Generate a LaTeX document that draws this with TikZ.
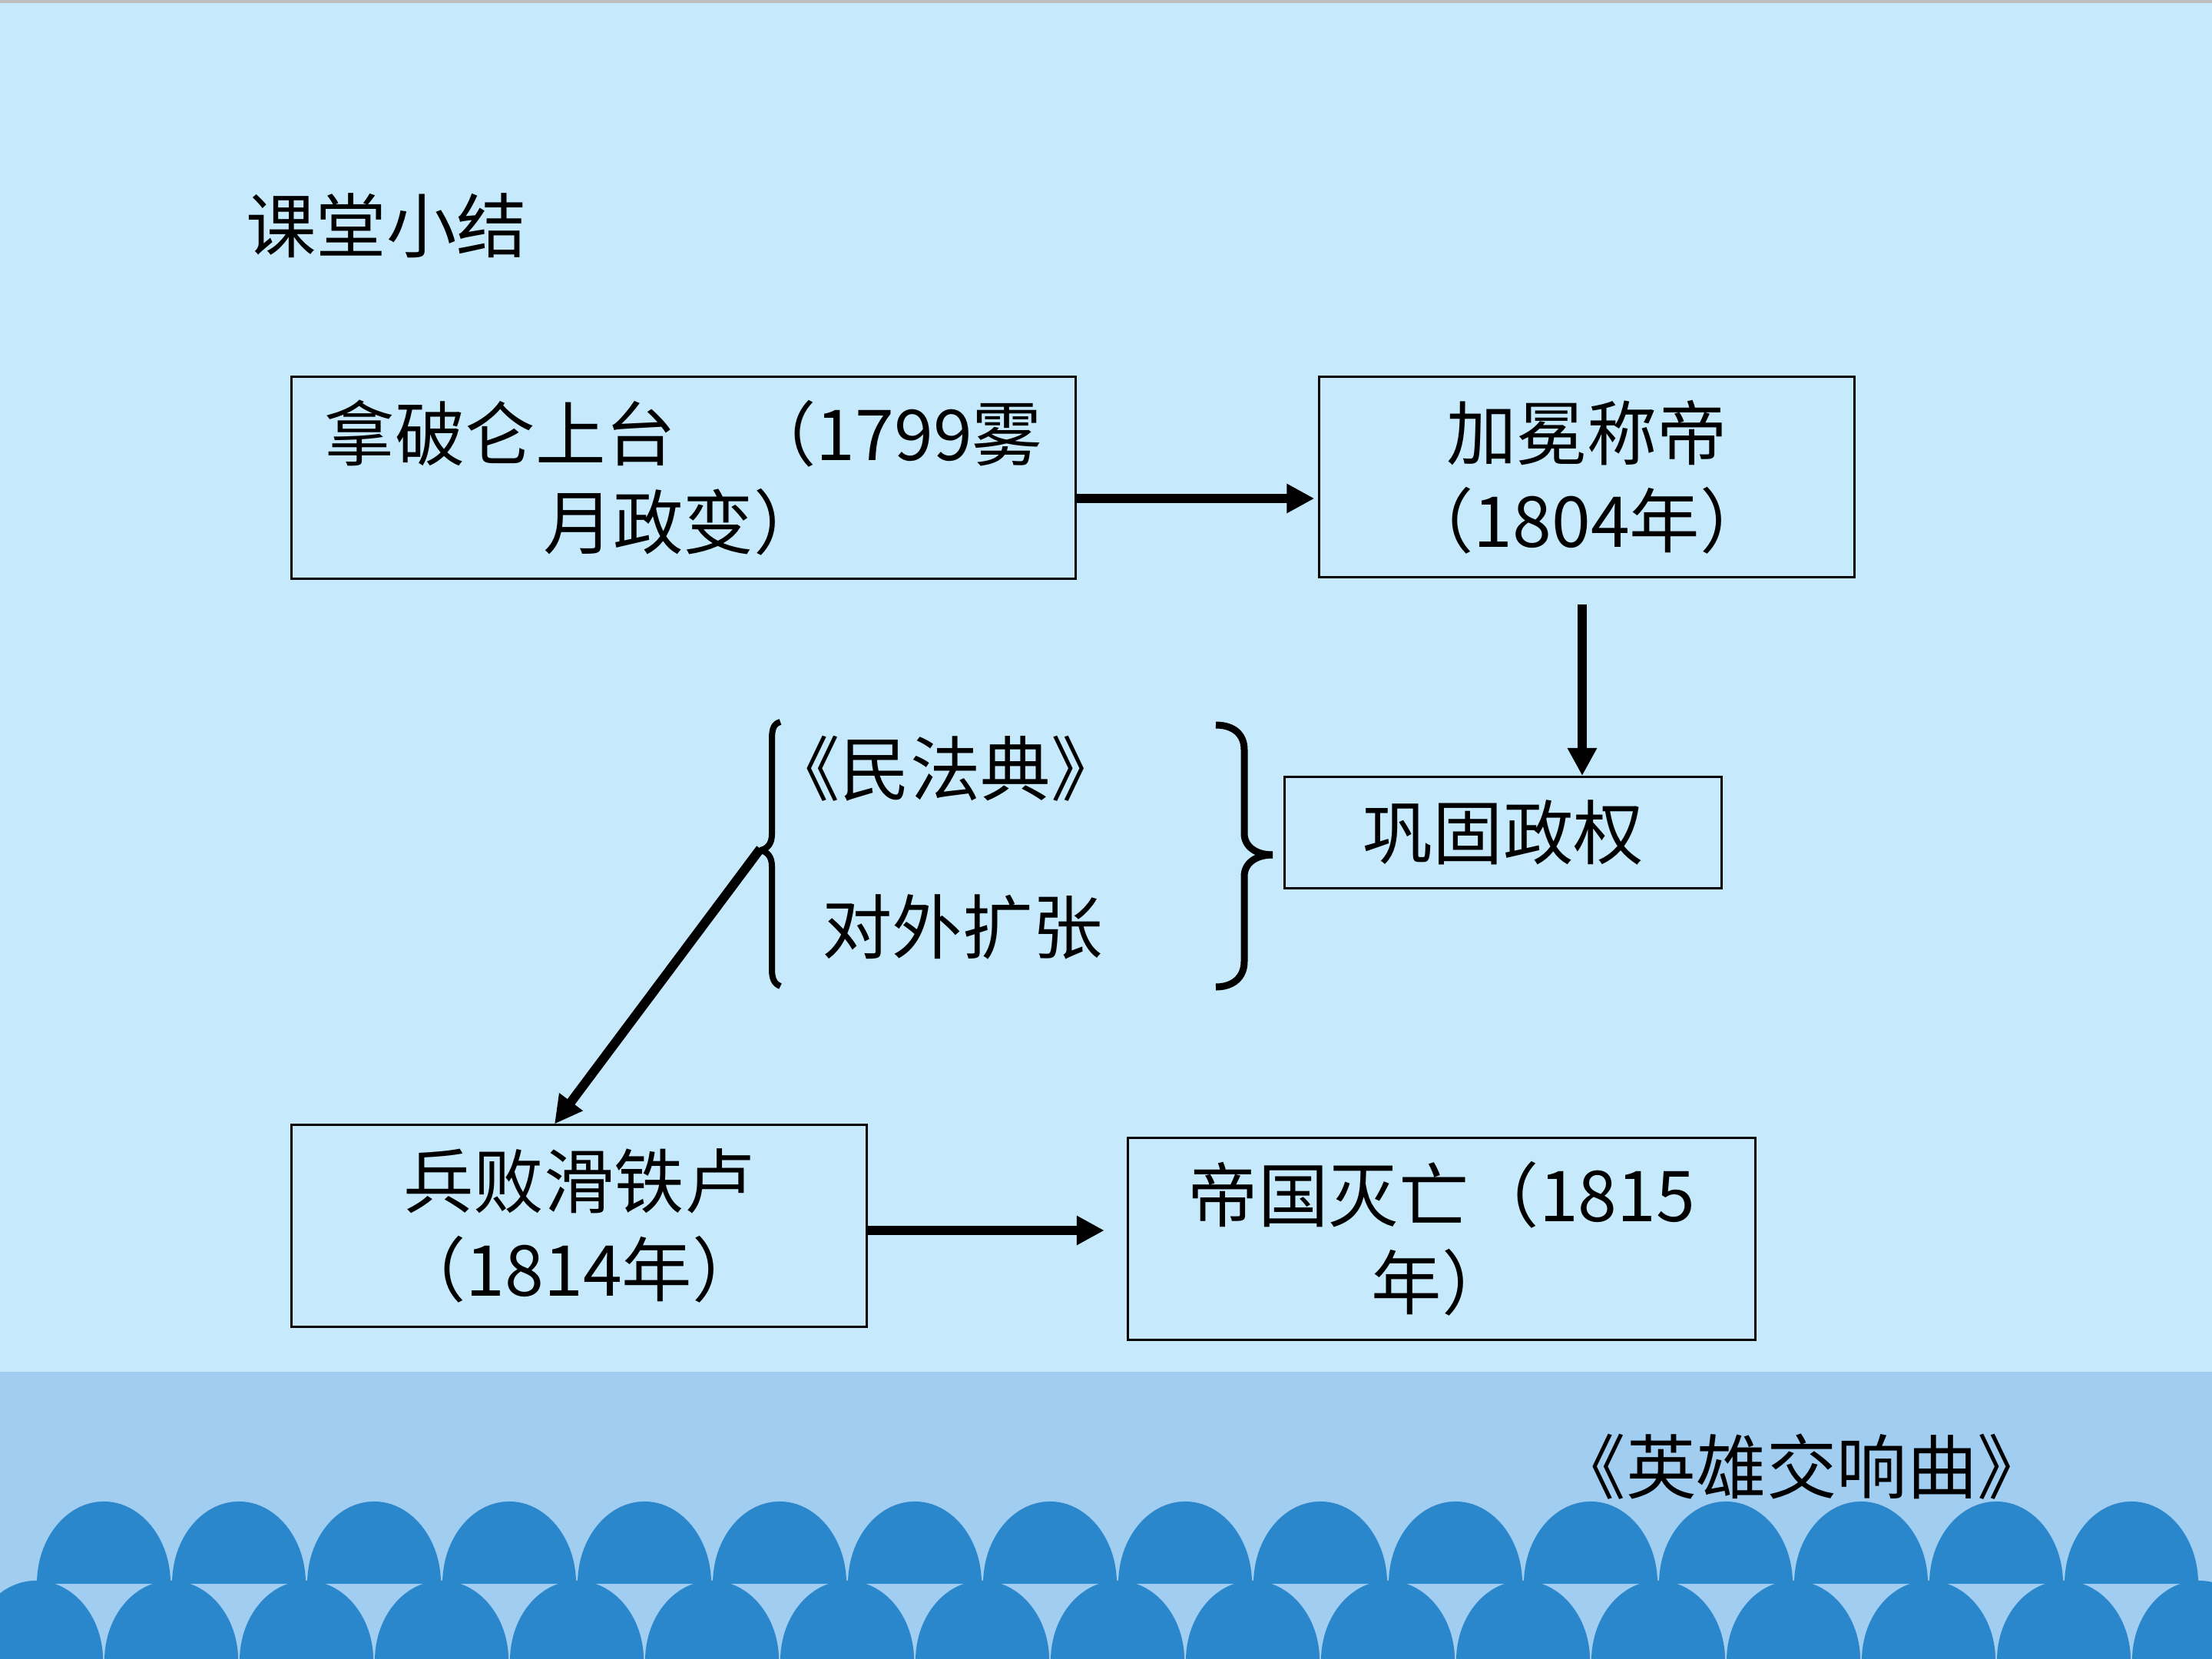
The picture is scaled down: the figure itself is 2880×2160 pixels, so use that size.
\documentclass[tikz,border=0pt]{standalone}
\usepackage{fontspec}
\setmainfont{Noto Sans CJK SC}
\usetikzlibrary{arrows.meta,calc}
\definecolor{bgblue}{RGB}{198,233,252}
\definecolor{bandblue}{RGB}{160,205,240}
\definecolor{waveblue}{RGB}{42,135,204}
\definecolor{edgegray}{RGB}{190,190,190}
\tikzset{
  txt/.style={inner sep=0pt, font=\fontsize{26pt}{32.5pt}\selectfont, align=center},
  box/.style={txt, draw=black, line width=0.03cm},
  arr/.style={line width=0.12cm, -{Triangle[length=0.36cm,width=0.36cm]}},
  bracepath/.style={line width=0.09cm, line cap=butt},
  wave/.style={fill=waveblue}
}
\begin{document}
\begin{tikzpicture}[x=0.01cm,y=-0.01cm]
\useasboundingbox (0,0) rectangle (2880,2160);
% background
\fill[bgblue] (0,0) rectangle (2880,2160);
\fill[edgegray] (0,0) rectangle (2880,4);
\fill[bandblue] (0,1786) rectangle (2880,2160);
% lower row of waves
\foreach \k in {0,...,16}{
  \pgfmathsetmacro{\cx}{47+176*\k}
  \fill[wave] (\cx-87,2162) arc[start angle=180,end angle=0,x radius=0.87cm,y radius=1.04cm] -- cycle;
}
% upper row of waves
\foreach \k in {0,...,15}{
  \pgfmathsetmacro{\cx}{135+176*\k}
  \fill[wave] (\cx-87,2062) arc[start angle=180,end angle=0,x radius=0.87cm,y radius=1.07cm] -- cycle;
}
% title
\node[txt] (title) at (503,294) {课堂小结};
% boxes
\node[box, minimum width=10.20cm, minimum height=2.62cm] (b1) at (890,622) {拿破仑上台　（1799雾\\月政变）};
\node[box, minimum width=6.96cm, minimum height=2.61cm] (b2) at (2066,621) {加冕称帝\\（1804年）};
\node[box, minimum width=5.68cm, minimum height=1.45cm] (b3) at (1957,1084) {巩固政权};
\node[box, minimum width=7.48cm, minimum height=2.62cm] (b4) at (754,1596) {兵败滑铁卢\\（1814年）};
\node[box, minimum width=8.17cm, minimum height=2.62cm] (b5) at (1877,1613) {帝国灭亡（1815\\年）};
% brace texts
\node[txt] (code) at (1231,1001) {《民法典》};
\node[txt] (exp) at (1253,1207) {对外扩张};
\node[txt] (sym) at (2346,1910) {《英雄交响曲》};
% left brace
\draw[bracepath, line width=0.08cm] (1016,940) .. controls (1008,942) and (1005,948) .. (1005,962) -- (1005,1086) .. controls (1005,1099) and (999,1105) .. (990,1107);
\draw[bracepath, line width=0.08cm] (990,1107) .. controls (999,1109) and (1005,1115) .. (1005,1128) -- (1005,1262) .. controls (1005,1274) and (1008,1281) .. (1016,1284);
\coordinate (lbtip) at (990,1105);
% right brace
\draw[bracepath] (1583,944) .. controls (1606,944) and (1620,956) .. (1620,976) -- (1620,1085) .. controls (1620,1102) and (1635,1113) .. (1657,1113);
\draw[bracepath] (1657,1113) .. controls (1635,1113) and (1620,1124) .. (1620,1141) -- (1620,1252) .. controls (1620,1272) and (1606,1285) .. (1583,1285);
% connectors
\draw[arr] ($(b1.east)+(0,27)$) -- ($(b2.west)+(-5,28)$);
\coordinate (a2s) at ($(b2.south)+(-6,34)$);
\draw[arr] (a2s) -- (a2s |- b3.north);
\draw[arr] (lbtip) -- ($(b4.north)+(-32,0)$);
\draw[arr] ($(b4.east)+(0,6)$) -- ($(b5.west)+(-29,-11)$);
\end{tikzpicture}
\end{document}
